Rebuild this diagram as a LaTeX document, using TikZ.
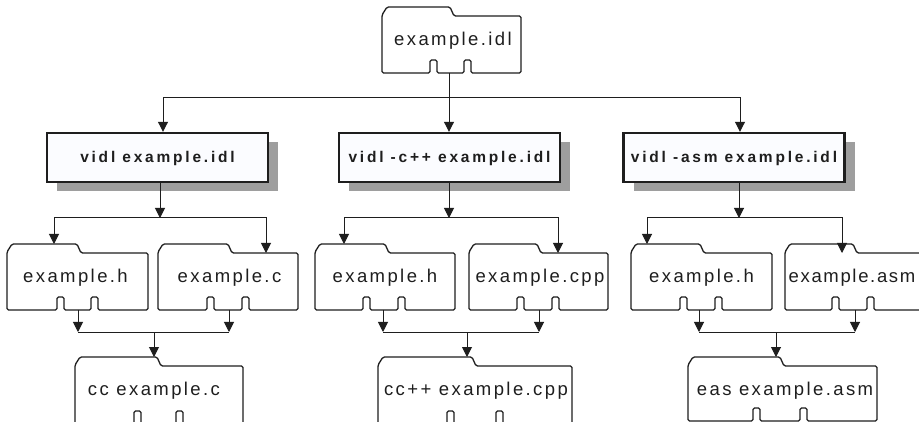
\documentclass[tikz,border=0pt]{standalone}
\usepackage{fontspec}
\setmainfont{Liberation Sans}
\usetikzlibrary{arrows.meta,shadows}
\definecolor{boxfill}{RGB}{251,252,255}
\definecolor{shadowgray}{RGB}{158,158,158}
\definecolor{ink}{RGB}{30,30,30}

% folder-like file outline: left, right, tab top, bottom, tab end, notch 1, notch 2
\newcommand\filepath[7]{%
  \draw[fileline] ({#1},{#3+30}) -- ({#1},{#3+8}) -- ({#1+5},{#3}) -- ({#5},{#3})
    -- ({#5+4},{#3+9}) -- ({#2},{#3+9}) -- ({#2},{#4})
    -- ({#7+7},{#4}) -- ({#7+7},{#4-13}) -- ({#7},{#4-13}) -- ({#7},{#4})
    -- ({#6+7},{#4}) -- ({#6+7},{#4-13}) -- ({#6},{#4-13}) -- ({#6},{#4})
    -- ({#1},{#4}) -- cycle;}

\begin{document}
\begin{tikzpicture}[x=1pt,y=-1pt,
  conn/.style={line width=1pt, draw=ink},
  arr/.style={conn, -{Triangle[width=10pt,length=10pt]}},
  fileline/.style={line width=1.3pt, draw=ink, rounded corners=1.5pt},
  filetext/.style={anchor=base, inner sep=0pt, text=ink,
    font={\fontsize{18.5}{21}\selectfont\addfontfeatures{LetterSpace=13}}},
  tightfiletext/.style={filetext,
    font={\fontsize{18.5}{21}\selectfont\addfontfeatures{LetterSpace=9}}},
  cmdbox/.style={draw=ink, line width=2.4pt, fill=boxfill,
    minimum width=221pt, minimum height=49pt, inner sep=0pt, text=ink,
    text height=11pt, text depth=0pt,
    font={\fontsize{15.5}{18}\selectfont\bfseries\addfontfeatures{LetterSpace=18}},
    general shadow={fill=shadowgray, shadow xshift=10pt, shadow yshift=-9pt}},
]
\useasboundingbox (0,0) rectangle (919,422);
\clip (0,0) rectangle (919,422);
\fill[white] (0,0) rectangle (919,422);

% source file
\filepath{382}{521}{7}{73}{450}{430}{464}
\node[filetext] (idl) at (453,45.5) {example.idl};
\coordinate (idl-out) at (449,73);

% compiler commands
\node[cmdbox] (cmdA) at (157.5,157.5) {vidl example.idl};
\node[cmdbox] (cmdB) at (449.5,157.5) {vidl -c++ example.idl};
\node[cmdbox] (cmdC) at (734,157.5) {vidl -asm example.idl};

% generated files
\filepath{7}{148}{244}{310}{77}{57}{91}
\node[filetext] (hA) at (75.5,282.5) {example.h};
\filepath{158}{298}{244}{310}{228}{207}{242}
\node[filetext] (cA) at (229.5,282.5) {example.c};

\filepath{315}{455}{244}{310}{385}{363}{398}
\node[filetext] (hB) at (385,282.5) {example.h};
\filepath{469}{608}{244}{310}{537}{517}{552}
\node[filetext] (cppB) at (540,282.5) {example.cpp};

\filepath{631}{772}{244}{310}{700}{680}{715}
\node[filetext] (hC) at (701.5,282.5) {example.h};
\filepath{785}{925}{244}{310}{853}{832}{867}
\node[tightfiletext] (asmC) at (852,282.5) {example.asm};

% build steps
\filepath{75}{243}{357}{424}{157}{134}{176}
\node[filetext] (ccA) at (154,395.5) {cc example.c};
\filepath{378}{572}{357}{424}{472}{447}{496}
\node[filetext] (ccB) at (476,395.5) {cc++ example.cpp};
\filepath{688}{877}{357}{421}{780}{753}{800}
\node[filetext] (easC) at (785,395.5) {eas example.asm};

% connection points
\coordinate (split) at (449,98);
\coordinate (jA) at (160,218);
\coordinate (jB) at (449,218);
\coordinate (jC) at (739,218);
\coordinate (hA-in) at (54,244);
\coordinate (cA-in) at (266,253);
\coordinate (hB-in) at (344,244);
\coordinate (cppB-in) at (558,253);
\coordinate (hC-in) at (647,244);
\coordinate (asmC-in) at (842,253);
\coordinate (hA-out) at (78,310);
\coordinate (cA-out) at (229,310);
\coordinate (hB-out) at (383,310);
\coordinate (cppB-out) at (539,310);
\coordinate (hC-out) at (699,310);
\coordinate (asmC-out) at (855,310);
\coordinate (mA) at (154,332);
\coordinate (mB) at (467,332);
\coordinate (mC) at (776,332);
\coordinate (ccA-in) at (154,357);
\coordinate (ccB-in) at (467,357);
\coordinate (easC-in) at (776,357);

% source to commands
\draw[arr] (idl-out) -- (idl-out |- cmdB.north);
\draw[arr] (split) -| ([xshift=5.5pt]cmdA.north);
\draw[arr] (split) -| ([xshift=6pt]cmdC.north);

% commands to generated files
\draw[arr] (cmdA.south -| jA) -- (jA);
\draw[arr] (jA) -| (hA-in);
\draw[arr] (jA) -| (cA-in);
\draw[arr] (cmdB.south -| jB) -- (jB);
\draw[arr] (jB) -| (hB-in);
\draw[arr] (jB) -| (cppB-in);
\draw[arr] (cmdC.south -| jC) -- (jC);
\draw[arr] (jC) -| (hC-in);
\draw[arr] (jC) -| (asmC-in);

% generated files to build steps
\draw[arr] (hA-out) -- (hA-out |- mA);
\draw[arr] (cA-out) -- (cA-out |- mA);
\draw[conn] (hA-out |- mA) -- (cA-out |- mA);
\draw[arr] (mA) -- (ccA-in);
\draw[arr] (hB-out) -- (hB-out |- mB);
\draw[arr] (cppB-out) -- (cppB-out |- mB);
\draw[conn] (hB-out |- mB) -- (cppB-out |- mB);
\draw[arr] (mB) -- (ccB-in);
\draw[arr] (hC-out) -- (hC-out |- mC);
\draw[arr] (asmC-out) -- (asmC-out |- mC);
\draw[conn] (hC-out |- mC) -- (asmC-out |- mC);
\draw[arr] (mC) -- (easC-in);
\end{tikzpicture}
\end{document}
